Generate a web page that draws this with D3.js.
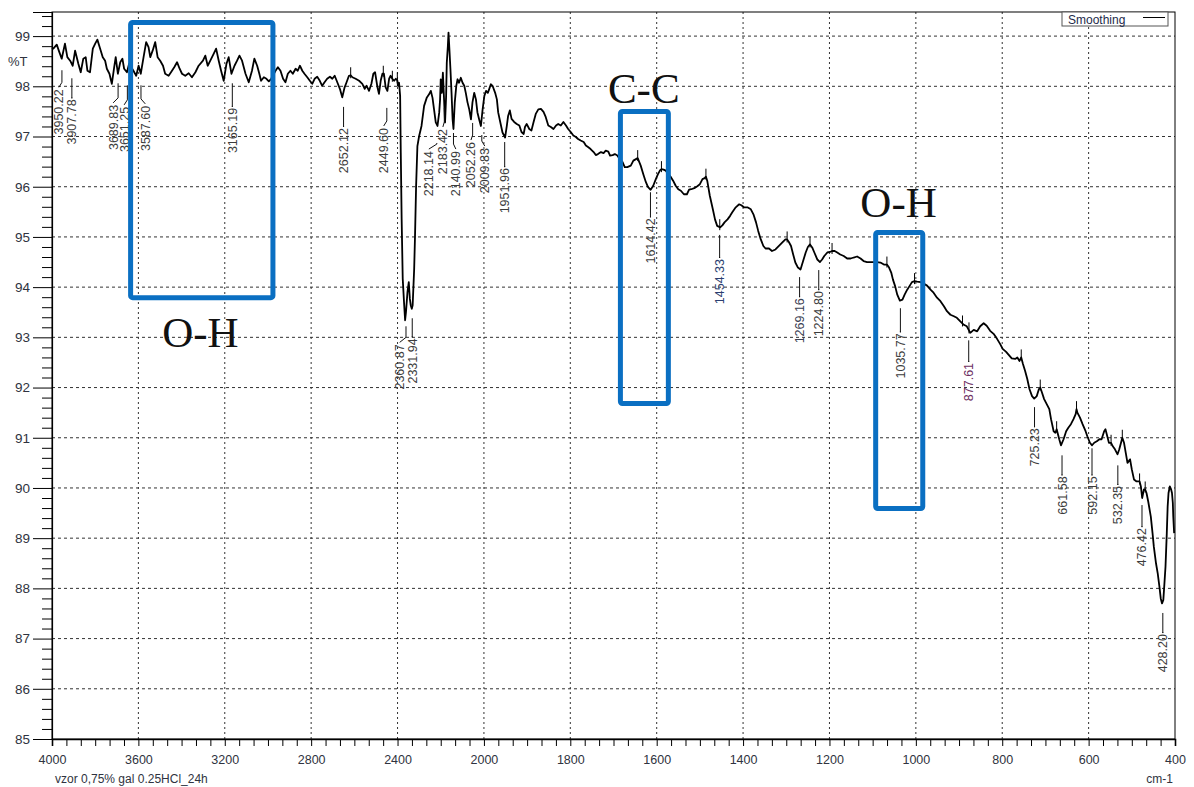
<!DOCTYPE html>
<html>
<head>
<meta charset="utf-8">
<script src="https://cdn.jsdelivr.net/npm/d3@7/dist/d3.min.js"></script>
<style>
  html, body { margin: 0; padding: 0; background: #fff; }
  svg text { font-family: "Liberation Sans", Arial, sans-serif; }
  svg text.band-title { font-family: "Liberation Serif", "Times New Roman", serif; }
</style>
</head>
<body>
<div id="chart"></div>
<script>
// IR spectrum, %T vs wavenumber (cm-1)
const spectrum = [
  [4000, 98.77], [3994, 98.75], [3978, 98.83], [3966, 98.68], [3955, 98.55], [3940, 98.85], [3929, 98.58],
  [3916, 98.51], [3904, 98.41], [3893, 98.71], [3878, 98.45], [3867, 98.28], [3855, 98.55], [3844, 98.58],
  [3836, 98.31], [3824, 98.28], [3811, 98.75], [3800, 98.85], [3790, 98.93], [3777, 98.75], [3765, 98.58],
  [3754, 98.51], [3746, 98.35], [3734, 98.25], [3723, 98.05], [3712, 98.38], [3705, 98.58], [3695, 98.25],
  [3684, 98.48], [3674, 98.55], [3666, 98.35], [3653, 98.28], [3643, 98.45], [3623, 98.31], [3610, 98.21],
  [3599, 98.41], [3589, 98.25], [3576, 98.58], [3564, 98.88], [3553, 98.78], [3545, 98.58], [3534, 98.71],
  [3522, 98.88], [3511, 98.58], [3499, 98.51], [3486, 98.41], [3476, 98.25], [3460, 98.21], [3449, 98.28],
  [3434, 98.38], [3421, 98.48], [3409, 98.35], [3398, 98.25], [3383, 98.21], [3367, 98.26], [3352, 98.18],
  [3336, 98.28], [3321, 98.41], [3301, 98.51], [3290, 98.61], [3279, 98.41], [3267, 98.51], [3251, 98.65],
  [3240, 98.75], [3228, 98.51], [3217, 98.31], [3205, 98.11], [3192, 98.45], [3182, 98.58], [3169, 98.25],
  [3155, 98.41], [3143, 98.51], [3132, 98.61], [3120, 98.51], [3104, 98.25], [3089, 98.08], [3074, 98.31],
  [3063, 98.55], [3050, 98.41], [3040, 98.25], [3032, 98.11], [3019, 98.18], [3007, 98.15], [2996, 98.10],
  [2985, 98.15], [2965, 98.31], [2954, 98.38], [2942, 98.31], [2930, 98.15], [2919, 98.08], [2908, 98.25],
  [2896, 98.31], [2885, 98.25], [2872, 98.35], [2862, 98.31], [2852, 98.41], [2841, 98.31], [2831, 98.25],
  [2818, 98.18], [2806, 98.11], [2795, 98.05], [2784, 98.15], [2772, 98.19], [2760, 98.11], [2749, 98.01],
  [2738, 98.08], [2726, 98.15], [2713, 98.19], [2702, 98.15], [2691, 98.21], [2679, 98.08], [2667, 97.95],
  [2656, 97.78], [2645, 97.98], [2636, 98.08], [2625, 98.21], [2617, 98.22], [2609, 98.18], [2594, 98.15],
  [2578, 98.11], [2563, 98.05], [2552, 97.95], [2543, 98.01], [2532, 97.91], [2521, 98.05], [2512, 98.25],
  [2504, 98.28], [2493, 97.98], [2486, 97.85], [2478, 98.11], [2470, 98.25], [2463, 98.25], [2455, 97.98],
  [2447, 97.91], [2439, 98.15], [2432, 98.21], [2424, 98.15], [2416, 98.11], [2408, 98.15], [2401, 98.12],
  [2398, 98.01], [2393, 98.07], [2388, 97.81], [2385, 96.68], [2381, 95.36], [2376, 94.17], [2370, 93.70],
  [2365, 93.34], [2361, 93.50], [2354, 93.90], [2348, 94.10], [2343, 93.77], [2339, 93.64], [2334, 93.57],
  [2330, 93.64], [2323, 94.36], [2319, 95.03], [2314, 96.02], [2308, 96.81], [2300, 97.01], [2289, 97.21],
  [2277, 97.61], [2265, 97.77], [2254, 97.84], [2246, 97.91], [2238, 97.77], [2231, 97.54], [2223, 97.28],
  [2215, 97.21], [2207, 97.48], [2203, 97.74], [2200, 98.14], [2195, 97.87], [2190, 98.27], [2184, 97.68],
  [2180, 97.28], [2175, 97.81], [2172, 98.47], [2167, 98.80], [2164, 99.07], [2159, 98.67], [2155, 98.34],
  [2150, 97.87], [2145, 97.34], [2141, 97.15], [2135, 97.68], [2128, 98.01], [2122, 98.14], [2115, 98.07],
  [2107, 98.17], [2099, 98.07], [2091, 98.01], [2084, 97.87], [2076, 97.68], [2068, 97.54], [2060, 97.34],
  [2053, 97.68], [2045, 97.87], [2037, 97.74], [2030, 97.48], [2022, 97.34], [2014, 97.21], [2006, 97.54],
  [1999, 97.81], [1995, 97.91], [1991, 97.87], [1988, 97.94], [1984, 98.04], [1980, 98.01], [1974, 97.87],
  [1970, 97.74], [1967, 97.48], [1962, 97.28], [1957, 97.08], [1951, 96.98], [1947, 97.21], [1944, 97.41],
  [1940, 97.52], [1936, 97.35], [1930, 97.29], [1924, 97.25], [1918, 97.22], [1913, 97.09], [1908, 97.05],
  [1905, 97.19], [1901, 97.25], [1895, 97.15], [1890, 97.12], [1885, 97.29], [1880, 97.45], [1874, 97.54],
  [1868, 97.55], [1862, 97.49], [1857, 97.39], [1851, 97.22], [1845, 97.19], [1839, 97.15], [1833, 97.22],
  [1828, 97.25], [1822, 97.22], [1816, 97.29], [1810, 97.22], [1805, 97.15], [1799, 97.09], [1793, 97.02],
  [1787, 96.99], [1782, 96.95], [1776, 96.92], [1769, 96.89], [1764, 96.82], [1759, 96.79], [1753, 96.75],
  [1746, 96.69], [1741, 96.63], [1736, 96.65], [1729, 96.69], [1723, 96.67], [1718, 96.72], [1712, 96.70],
  [1708, 96.62], [1702, 96.63], [1697, 96.65], [1691, 96.62], [1685, 96.55], [1679, 96.49], [1674, 96.39],
  [1668, 96.39], [1660, 96.42], [1654, 96.52], [1648, 96.55], [1644, 96.57], [1637, 96.42], [1631, 96.25],
  [1625, 96.09], [1620, 95.99], [1614, 95.94], [1608, 96.02], [1602, 96.15], [1597, 96.25], [1592, 96.33],
  [1589, 96.35], [1584, 96.34], [1579, 96.32], [1573, 96.25], [1567, 96.19], [1562, 96.12], [1556, 96.02],
  [1550, 95.95], [1544, 95.92], [1537, 95.85], [1530, 95.85], [1525, 95.94], [1520, 95.95], [1513, 95.97],
  [1506, 96.01], [1500, 96.05], [1494, 96.15], [1489, 96.17], [1486, 96.20], [1483, 96.12], [1477, 95.82],
  [1470, 95.55], [1465, 95.35], [1460, 95.22], [1453, 95.19], [1448, 95.23], [1443, 95.29], [1436, 95.35],
  [1430, 95.42], [1425, 95.49], [1417, 95.59], [1409, 95.65], [1404, 95.63], [1398, 95.59], [1390, 95.59],
  [1382, 95.55], [1376, 95.45], [1370, 95.29], [1365, 95.12], [1359, 94.95], [1353, 94.82], [1348, 94.77],
  [1340, 94.77], [1333, 94.72], [1325, 94.75], [1317, 94.82], [1309, 94.89], [1302, 94.95], [1298, 94.95],
  [1294, 94.90], [1289, 94.82], [1284, 94.65], [1279, 94.49], [1273, 94.39], [1267, 94.35], [1261, 94.52],
  [1255, 94.69], [1250, 94.80], [1245, 94.85], [1240, 94.79], [1235, 94.69], [1228, 94.55], [1222, 94.50],
  [1217, 94.55], [1212, 94.62], [1205, 94.69], [1199, 94.70], [1194, 94.72], [1188, 94.72], [1182, 94.69],
  [1175, 94.65], [1167, 94.62], [1159, 94.57], [1151, 94.57], [1144, 94.59], [1136, 94.61], [1128, 94.57],
  [1121, 94.52], [1113, 94.50], [1105, 94.50], [1097, 94.50], [1090, 94.50], [1082, 94.49], [1074, 94.45],
  [1067, 94.45], [1062, 94.39], [1057, 94.29], [1053, 94.15], [1048, 94.02], [1043, 93.85], [1037, 93.73],
  [1031, 93.75], [1026, 93.85], [1020, 93.95], [1014, 94.03], [1009, 94.10], [1003, 94.12], [997, 94.11],
  [989, 94.10], [982, 94.07], [974, 94.03], [966, 93.95], [959, 93.89], [951, 93.79], [943, 93.72],
  [935, 93.62], [928, 93.52], [920, 93.45], [912, 93.42], [905, 93.39], [897, 93.32], [889, 93.25],
  [882, 93.22], [874, 93.09], [866, 93.15], [858, 93.12], [851, 93.22], [843, 93.28], [836, 93.23],
  [828, 93.13], [820, 93.07], [812, 92.97], [805, 92.87], [799, 92.77], [791, 92.71], [783, 92.63],
  [778, 92.58], [770, 92.57], [765, 92.60], [760, 92.53], [756, 92.60], [752, 92.47], [747, 92.33],
  [742, 92.17], [737, 91.97], [731, 91.83], [726, 91.78], [720, 91.83], [715, 91.97], [712, 92.00],
  [708, 91.90], [703, 91.77], [697, 91.67], [691, 91.57], [687, 91.37], [681, 91.13], [677, 91.10],
  [674, 91.17], [671, 91.07], [668, 90.97], [664, 90.85], [658, 90.97], [652, 91.13], [647, 91.20],
  [641, 91.27], [635, 91.37], [630, 91.47], [628, 91.57], [626, 91.50], [620, 91.40], [614, 91.27],
  [607, 91.13], [603, 91.03], [597, 90.90], [592, 90.85], [587, 90.90], [581, 90.93], [575, 90.97],
  [570, 90.97], [564, 91.13], [561, 91.17], [558, 91.07], [553, 90.90], [548, 90.90], [544, 90.83],
  [539, 90.77], [533, 90.67], [529, 90.77], [525, 90.90], [522, 91.00], [518, 90.90], [514, 90.70],
  [510, 90.50], [504, 90.57], [500, 90.37], [495, 90.17], [489, 90.13], [482, 90.13], [479, 90.03],
  [476, 89.80], [472, 89.97], [469, 89.97], [466, 89.90], [462, 89.73], [456, 89.43], [452, 89.10],
  [449, 88.83], [444, 88.50], [440, 88.30], [436, 88.03], [433, 87.80], [430, 87.70], [427, 87.77],
  [425, 88.03], [422, 88.43], [419, 89.10], [417, 89.63], [415, 89.90], [412, 90.03], [409, 89.97],
  [407, 89.90], [405, 89.70], [404, 89.43], [402, 89.10]
];

// small peak-pick ticks that sit on the trace
const pickTicks = [2617, 2466, 2424, 2401, 1644, 1589, 1486, 1454, 1298, 1245, 1194, 1067, 1003,
  892, 877, 756, 712, 674, 628, 548, 522, 482, 469];

// [label, peak cm-1, leader top %T, label cm-1, label top %T]
const peakLabels = [
  ["3950.22", 3954, 98.32, 3968, 97.96],
  ["3907.78", 3908, 98.16, 3908, 97.76],
  ["3689.83", 3694, 98.06, 3717, 97.65],
  ["3651.25", 3651, 98.02, 3666, 97.61],
  ["3587.60", 3588, 98.02, 3568, 97.63],
  ["3165.19", 3165, 98.06, 3165, 97.59],
  ["2652.12", 2650, 97.59, 2650, 97.19],
  ["2449.60", 2449.6, 97.57, 2464, 97.19],
  ["2360.87", 2360.87, 93.22, 2390, 92.88],
  ["2331.94", 2331.94, 93.38, 2331.94, 93.00],
  ["2218.14", 2218.14, 96.87, 2255, 96.73],
  ["2183.42", 2183.42, 97.57, 2190, 97.17],
  ["2140.99", 2140.99, 97.07, 2130, 96.73],
  ["2052.26", 2052.26, 97.27, 2060, 96.91],
  ["2009.83", 2009.83, 97.03, 1998, 96.79],
  ["1951.96", 1951.96, 96.89, 1951.96, 96.39],
  ["1614.42", 1614.42, 95.89, 1614.42, 95.39],
  ["1454.33", 1454.33, 95.04, 1454.33, 94.58],
  ["1269.16", 1269.16, 94.20, 1269.16, 93.80],
  ["1224.80", 1224.80, 94.34, 1224.80, 93.94],
  ["1035.77", 1035.77, 93.58, 1035.77, 93.10],
  ["877.61", 877.61, 92.94, 877.61, 92.51],
  ["725.23", 725.23, 91.61, 725.23, 91.21],
  ["661.58", 661.58, 90.65, 661.58, 90.25],
  ["592.15", 592.15, 90.79, 592.15, 90.25],
  ["532.35", 532.35, 90.45, 532.35, 90.06],
  ["476.42", 476.42, 89.66, 476.42, 89.22],
  ["428.20", 428.20, 87.51, 428.20, 87.11]
];
const labelColors = { "1454.33": "#2c3e70", "877.61": "#6e2f62", "1269.16": "#3a4052" };

// highlighted bands: [name, from cm-1, to cm-1, top %T, bottom %T, title cm-1, title baseline %T]
const bands = [
  ["O-H", 3636, 2977, 99.27, 93.79, 3313, 92.80],
  ["C-C", 1684, 1573, 97.50, 91.68, 1630, 97.67],
  ["O-H", 1093, 984, 95.09, 89.59, 1040, 95.39]
];

const xBreaks = [4000, 2000, 400];   // printout changes scale at 2000 cm-1
const xTicks = [4000, 3600, 3200, 2800, 2400, 2000, 1800, 1600, 1400, 1200, 1000, 800, 600, 400];
const yTicks = d3.range(85, 100);
const yTop = 99.48;

const width = 1194;
const height = 787;
const plotLeft = 52, plotRight = 1175, plotTop = 12, plotBottom = 739;

const svg = d3.select("#chart")
  .append("svg")
  .attr("width", width)
  .attr("height", height);

// left part (4000-2000) is drawn at half the density of the right part
const split = plotLeft + (plotRight - plotLeft) * (xBreaks[0] - xBreaks[1]) /
  ((xBreaks[0] - xBreaks[1]) + 2 * (xBreaks[1] - xBreaks[2]));
const x = d3.scaleLinear().domain(xBreaks).range([plotLeft, split, plotRight]);
const y = d3.scaleLinear().domain([85, yTop]).range([plotBottom, plotTop]);

// grid
svg.append("g")
  .selectAll("line")
  .data(yTicks.filter(d => d > 85))
  .join("line")
  .attr("x1", plotLeft).attr("x2", plotRight)
  .attr("y1", d => y(d)).attr("y2", d => y(d))
  .attr("stroke", "#333")
  .attr("stroke-width", 1)
  .attr("stroke-dasharray", "3,3");

svg.append("g")
  .selectAll("line")
  .data(xTicks.slice(1, -1))
  .join("line")
  .attr("x1", d => x(d)).attr("x2", d => x(d))
  .attr("y1", plotTop).attr("y2", plotBottom)
  .attr("stroke", "#333")
  .attr("stroke-width", 1)
  .attr("stroke-dasharray", "2,3");

// frame
svg.append("rect")
  .attr("x", plotLeft).attr("y", plotTop)
  .attr("width", plotRight - plotLeft).attr("height", plotBottom - plotTop)
  .attr("fill", "none")
  .attr("stroke", "#000")
  .attr("stroke-width", 1);

// y axis
const yAxis = svg.append("g")
  .attr("transform", `translate(${plotLeft},0)`)
  .call(d3.axisLeft(y).tickValues(yTicks).tickSize(19).tickPadding(3).tickFormat(d3.format("d")));
yAxis.select(".domain").attr("stroke-width", 1.2);
yAxis.selectAll("text").attr("font-size", 13.5).attr("fill", "#2f3340");

svg.append("g")
  .attr("transform", `translate(${plotLeft},0)`)
  .call(d3.axisLeft(y)
    .tickValues(d3.range(85, yTop, 0.2).filter(d => Math.abs(d - Math.round(d)) > 0.01))
    .tickSize(10).tickFormat(""))
  .call(g => g.select(".domain").remove());

svg.append("text")
  .attr("x", 8).attr("y", 66)
  .attr("font-size", 13)
  .attr("fill", "#2f3340")
  .text("%T");

// x axis
const xAxis = svg.append("g")
  .attr("transform", `translate(0,${plotBottom})`)
  .call(d3.axisBottom(x).tickValues(xTicks).tickSize(7).tickPadding(9).tickFormat(d3.format("d")));
xAxis.select(".domain").attr("stroke-width", 1.6);
xAxis.selectAll("text").attr("font-size", 12.5).attr("fill", "#2f3340");

const minorX = [];
for (let i = 0; i < xTicks.length - 1; i++) {
  const a = xTicks[i], b = xTicks[i + 1];
  for (let k = 1; k < 6; k++) minorX.push(a + (b - a) * k / 6);
}
svg.append("g")
  .attr("transform", `translate(0,${plotBottom})`)
  .call(d3.axisBottom(x).tickValues(minorX).tickSize(7).tickFormat(""))
  .call(g => g.select(".domain").remove());

svg.append("text")
  .attr("x", plotLeft + 3).attr("y", 783)
  .attr("font-size", 12)
  .attr("fill", "#2f3340")
  .text("vzor 0,75% gal 0.25HCl_24h");

svg.append("text")
  .attr("x", plotRight - 2).attr("y", 783)
  .attr("text-anchor", "end")
  .attr("font-size", 12)
  .attr("fill", "#2f3340")
  .text("cm-1");

// spectrum
const line = d3.line()
  .x(d => x(d[0]))
  .y(d => y(d[1]));

svg.append("path")
  .datum(spectrum)
  .attr("d", line)
  .attr("fill", "none")
  .attr("stroke", "#000")
  .attr("stroke-width", 1.8)
  .attr("stroke-linejoin", "round");

function valueAt(wn) {
  for (let i = 0; i < spectrum.length - 1; i++) {
    const [a, ta] = spectrum[i], [b, tb] = spectrum[i + 1];
    if (wn <= a && wn >= b) return ta + (tb - ta) * (a - wn) / (a - b);
  }
  return spectrum[spectrum.length - 1][1];
}

svg.append("g")
  .selectAll("line")
  .data(pickTicks)
  .join("line")
  .attr("x1", d => x(d)).attr("x2", d => x(d))
  .attr("y1", d => y(valueAt(d)) - 8)
  .attr("y2", d => y(valueAt(d)) + 3)
  .attr("stroke", "#000")
  .attr("stroke-width", 1);

// peak labels with leaders
const peaks = svg.append("g");
peaks.selectAll("polyline")
  .data(peakLabels)
  .join("polyline")
  .attr("points", d => {
    const px = x(d[1]), lx = x(d[3]);
    const y0 = y(d[2]), y1 = y(d[4]);
    const kink = Math.max(y0, y1 - (px === lx ? 0 : 6));
    return [[px, y0], [px, kink], [lx, y1 - 1]].map(p => p.join(",")).join(" ");
  })
  .attr("fill", "none")
  .attr("stroke", "#111")
  .attr("stroke-width", 1);

peaks.selectAll("text")
  .data(peakLabels)
  .join("text")
  .attr("transform", d => `translate(${x(d[3])},${y(d[4]) + 1}) rotate(-90)`)
  .attr("text-anchor", "end")
  .attr("dy", "0.36em")
  .attr("font-size", 12.5)
  .attr("fill", d => labelColors[d[0]] || "#3c3c3c")
  .text(d => d[0]);

// highlighted bands
svg.append("g")
  .selectAll("rect")
  .data(bands)
  .join("rect")
  .attr("x", d => x(d[1]))
  .attr("y", d => y(d[3]))
  .attr("width", d => x(d[2]) - x(d[1]))
  .attr("height", d => y(d[4]) - y(d[3]))
  .attr("rx", 2)
  .attr("fill", "none")
  .attr("stroke", "#0a6fc2")
  .attr("stroke-width", 5);

svg.append("g")
  .selectAll("text")
  .data(bands)
  .join("text")
  .attr("class", "band-title")
  .attr("x", d => x(d[5]))
  .attr("y", d => y(d[6]))
  .attr("text-anchor", "middle")
  .attr("font-size", 43)
  .attr("fill", "#111")
  .text(d => d[0]);

// legend
const legend = svg.append("g").attr("transform", `translate(${plotRight - 113},${plotTop})`);
legend.append("rect")
  .attr("width", 106).attr("height", 14)
  .attr("fill", "#fff")
  .attr("stroke", "#555")
  .attr("stroke-width", 1);
legend.append("text")
  .attr("x", 6).attr("y", 11.5)
  .attr("font-size", 12)
  .attr("fill", "#1d2a4a")
  .text("Smoothing");
legend.append("line")
  .attr("x1", 81).attr("x2", 103)
  .attr("y1", 5.5).attr("y2", 5.5)
  .attr("stroke", "#000")
  .attr("stroke-width", 1);
</script>
</body>
</html>
